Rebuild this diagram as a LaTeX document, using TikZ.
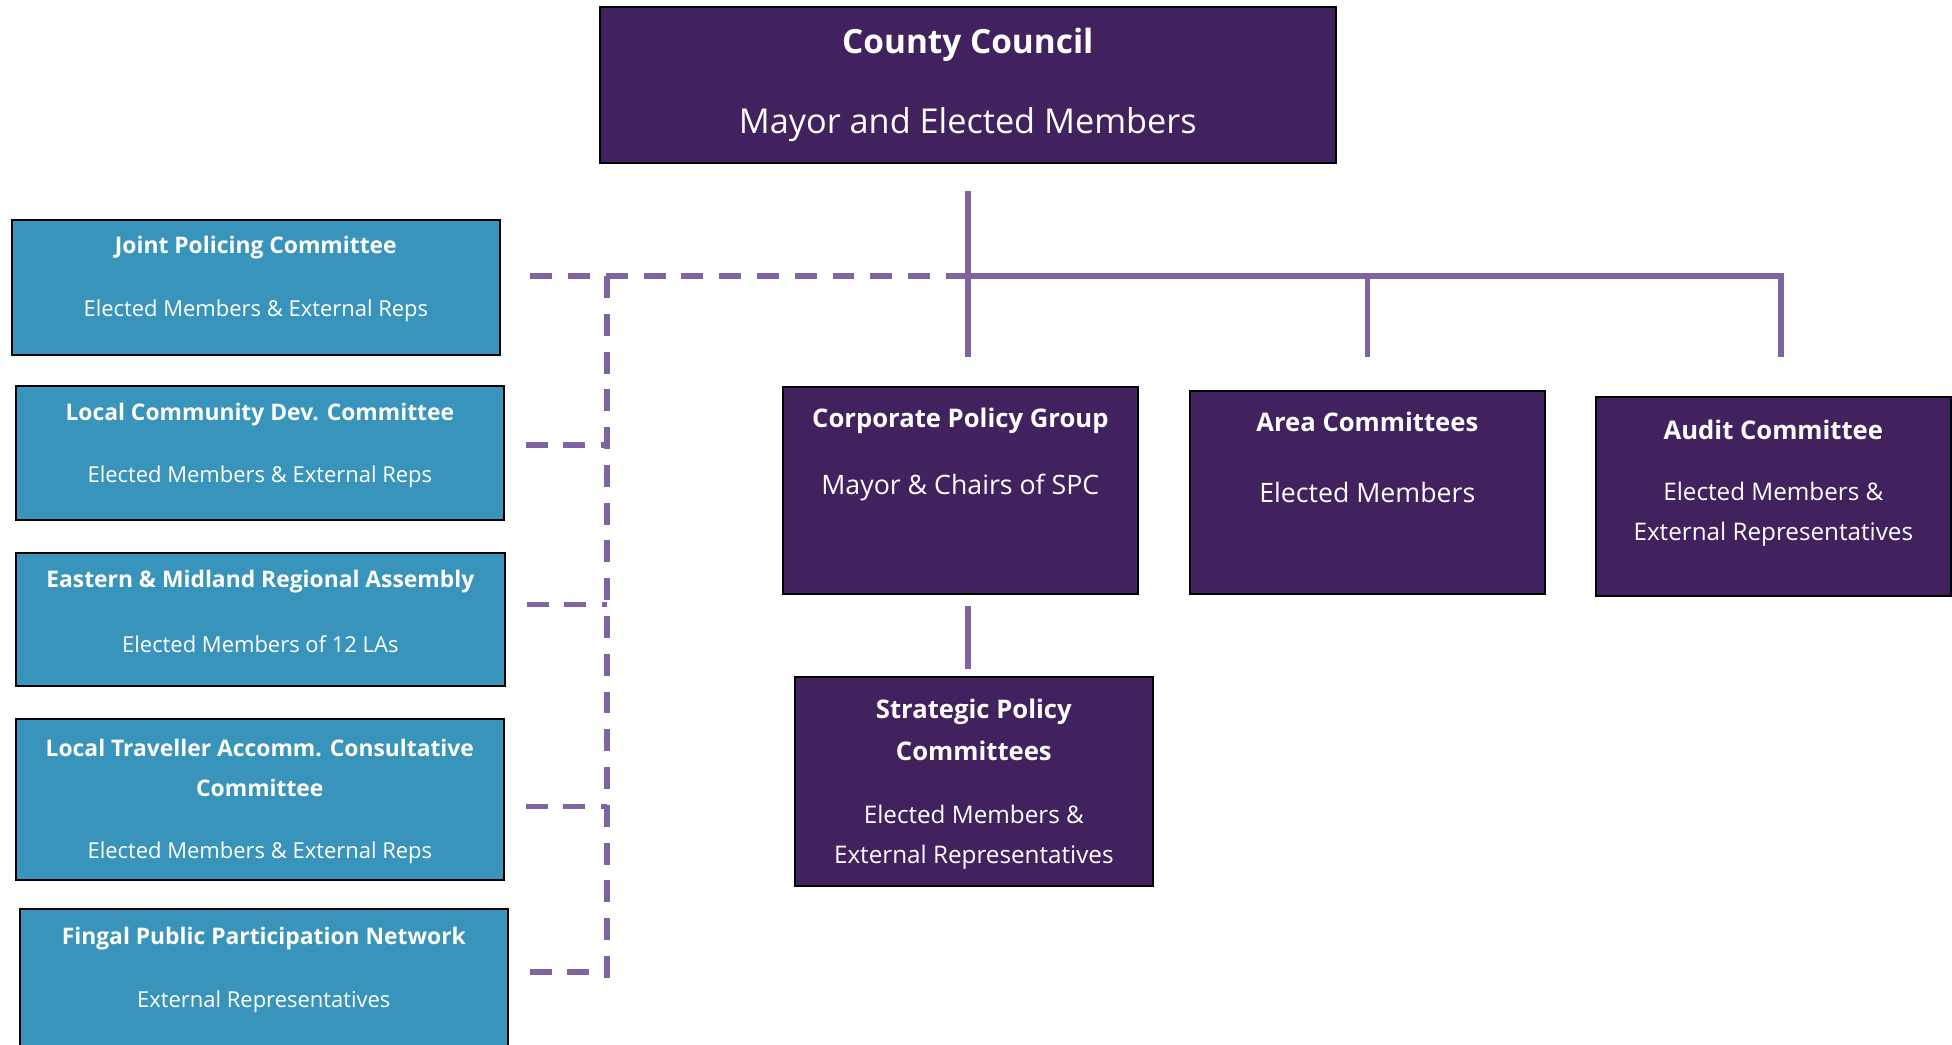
\documentclass[tikz,border=0pt]{standalone}
\usepackage{fontspec}
\setmainfont{Open Sans}
\usepackage{tikz}
\usetikzlibrary{positioning}
\definecolor{councilpurple}{HTML}{41225E}
\definecolor{partnerteal}{HTML}{3894BA}
\definecolor{linkpurple}{HTML}{8064A2}
\begin{document}
\begin{tikzpicture}[x=0.02cm,y=-0.02cm]
  \tikzstyle{council}=[rectangle,draw=black,line width=1pt,fill=councilpurple,anchor=north west,inner sep=0pt]
  \tikzstyle{partner}=[council,fill=partnerteal]
  \tikzstyle{head}=[text=white,align=center,yshift=-0.08cm,font=\fontsize{14.6}{23.8}\selectfont\bfseries]
  \tikzstyle{sub}=[text=white,align=center,yshift=-0.08cm,font=\fontsize{13.8}{22.7}\selectfont]
  \tikzstyle{left head}=[head,font=\fontsize{13}{22.7}\selectfont\bfseries]
  \tikzstyle{left sub}=[sub,font=\fontsize{12.5}{22.7}\selectfont]
  \tikzstyle{link}=[line width=3.2pt,draw=linkpurple]
  \tikzstyle{dash link}=[link,line width=3pt,dash pattern=on 12.5pt off 9pt]
  \useasboundingbox (0,0) rectangle (1952,1045);
  % council and its committees
  \node [council,minimum width=14.72cm,minimum height=3.12cm] (cc) at (599,6) {};
  \node [head,font=\fontsize{19}{23}\selectfont\bfseries] (cc-t) at ([yshift=-0.70cm]cc.north) {County Council};
  \node [sub,font=\fontsize{19.5}{23}\selectfont] (cc-s) at ([yshift=-2.30cm]cc.north) {Mayor and Elected Members};
  \node [council,minimum width=7.10cm,minimum height=4.14cm] (cpg) at (782,386) {};
  \node [head] (cpg-t) at ([yshift=-0.62cm]cpg.north) {Corporate Policy Group};
  \node [sub,font=\fontsize{15.2}{22.7}\selectfont] (cpg-s) at ([yshift=-1.96cm]cpg.north) {Mayor \& Chairs of SPC};
  \node [council,minimum width=7.10cm,minimum height=4.06cm] (area) at (1189,390) {};
  \node [head] (area-t) at ([yshift=-0.56cm]area.north) {Area Committees};
  \node [sub,font=\fontsize{15.2}{22.7}\selectfont] (area-s) at ([yshift=-1.96cm]area.north) {Elected Members};
  \node [council,minimum width=7.10cm,minimum height=3.98cm] (audit) at (1595,396) {};
  \node [head] (audit-t) at ([yshift=-0.60cm]audit.north) {Audit Committee};
  \node [sub] (audit-s) at ([yshift=-2.28cm]audit.north) {Elected Members \&\\External Representatives};
  \node [council,minimum width=7.16cm,minimum height=4.18cm] (spc) at (794,676) {};
  \node [head] (spc-t) at ([yshift=-1.00cm]spc.north) {Strategic Policy\\Committees};
  \node [sub] (spc-s) at ([yshift=-3.14cm]spc.north) {Elected Members \&\\External Representatives};
  % partner bodies
  \node [partner,minimum width=9.76cm,minimum height=2.70cm] (jpc) at (11,219) {};
  \node [left head] (jpc-t) at ([yshift=-0.50cm]jpc.north) {Joint Policing Committee};
  \node [left sub] (jpc-s) at ([yshift=-1.76cm]jpc.north) {Elected Members \& External Reps};
  \node [partner,minimum width=9.76cm,minimum height=2.68cm] (lcdc) at (15,385) {};
  \node [left head] (lcdc-t) at ([yshift=-0.52cm]lcdc.north) {Local Community Dev. Committee};
  \node [left sub] (lcdc-s) at ([yshift=-1.76cm]lcdc.north) {Elected Members \& External Reps};
  \node [partner,minimum width=9.78cm,minimum height=2.66cm] (emra) at (15,552) {};
  \node [left head] (emra-t) at ([yshift=-0.52cm]emra.north) {Eastern \& Midland Regional Assembly};
  \node [left sub] (emra-s) at ([yshift=-1.76cm]emra.north) {Elected Members of 12 LAs};
  \node [partner,minimum width=9.76cm,minimum height=3.22cm] (ltacc) at (15,718) {};
  \node [left head] (ltacc-t) at ([yshift=-0.92cm]ltacc.north) {Local Traveller Accomm. Consultative\\Committee};
  \node [left sub] (ltacc-s) at ([yshift=-2.62cm]ltacc.north) {Elected Members \& External Reps};
  \node [partner,minimum width=9.76cm,minimum height=3.00cm] (fppn) at (19,908) {};
  \node [left head] (fppn-t) at ([yshift=-0.54cm]fppn.north) {Fingal Public Participation Network};
  \node [left sub] (fppn-s) at ([yshift=-1.80cm]fppn.north) {External Representatives};
  % connectors
  \coordinate (hub) at (cc.south |- 0,276);
  \coordinate (bus) at (607,276);
  \draw [link,shorten <=0.54cm,shorten >=0.58cm] (cc.south) -- (cc.south |- cpg.north);
  \draw [link,shorten >=0.78cm] (hub) -| ([xshift=0.15cm]audit.north);
  \draw [link,shorten >=0.66cm] (hub -| area.north) -- (area.north);
  \draw [link,shorten <=0.22cm,shorten >=0.14cm] (cc.south |- cpg.south) -- (cc.south |- spc.north);
  \draw [dash link,shorten >=0.56cm] (hub) -- (hub -| jpc.east);
  \draw [dash link] (bus) -- ([yshift=0.12cm]fppn.east -| bus);
  \foreach \b/\d in {lcdc/0.16,emra/0.30,ltacc/-0.14,fppn/0.24}
    \draw [dash link,shorten <=0.42cm] ([yshift=\d cm]\b.east) -- ([yshift=\d cm]\b.east -| bus);
\end{tikzpicture}
\end{document}
